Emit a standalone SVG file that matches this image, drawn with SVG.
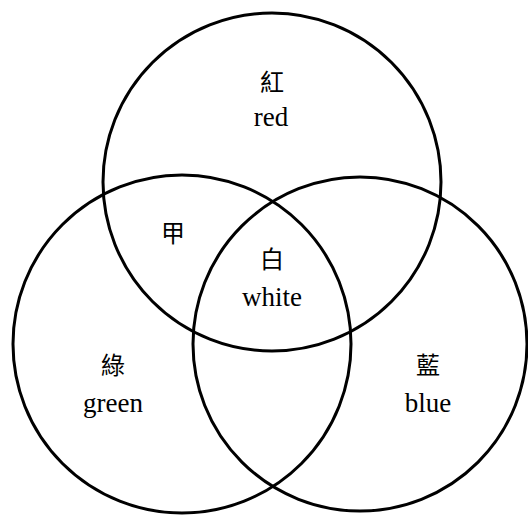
<svg xmlns="http://www.w3.org/2000/svg" width="528" height="518" viewBox="0 0 528 518">
<style>
.c{fill:none;stroke:#000;stroke-width:3}
</style>
<rect width="528" height="518" fill="#fff"/>
<g id="red"><circle class="c" cx="272" cy="182" r="169"/></g>
<g id="green"><circle class="c" cx="182" cy="344" r="169"/></g>
<g id="blue"><circle class="c" cx="360" cy="344" r="167"/></g>
<g id="labels" text-anchor="middle" fill="#000">
<text font-family="Noto Sans CJK TC, sans-serif" font-size="24" x="272" y="91">紅</text>
<text font-family="Liberation Serif, serif" font-size="27" x="271" y="126">red</text>
<text font-family="Noto Sans CJK TC, sans-serif" font-size="24" x="173" y="242">甲</text>
<text font-family="Noto Sans CJK TC, sans-serif" font-size="24" x="272" y="268">白</text>
<text font-family="Liberation Serif, serif" font-size="27" x="272" y="306">white</text>
<text font-family="Noto Sans CJK TC, sans-serif" font-size="24" x="113" y="374">綠</text>
<text font-family="Liberation Serif, serif" font-size="27" x="113" y="412">green</text>
<text font-family="Noto Sans CJK TC, sans-serif" font-size="24" x="428" y="374">藍</text>
<text font-family="Liberation Serif, serif" font-size="27" x="428" y="412">blue</text>
</g>
</svg>
